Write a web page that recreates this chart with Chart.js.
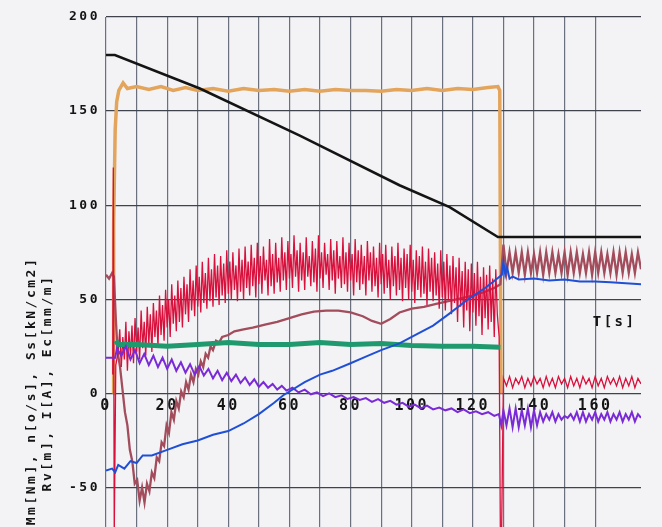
<!DOCTYPE html>
<html>
<head>
<meta charset="utf-8">
<script src="https://cdn.jsdelivr.net/npm/chart.js@4"></script>
<style>
  html, body { margin: 0; padding: 0; background: #f3f3f5; }
  #wrap { width: 662px; height: 527px; position: relative; }
</style>
</head>
<body>
<div id="wrap"><canvas id="chart"></canvas></div>
<script>
// axis values
const yGridValues = [-50, 0, 50, 100, 150, 200];
const xLabelValues = [0, 20, 40, 60, 80, 100, 120, 140, 160];
const yTitleLines = ["Mm[Nm], n[o/s], Ss[kN/cm2]", "Rv[m], I[A], Ec[mm/m]"];
const xTitle = "T[s]";

// time base after the stop (shared by the oscillating tails)
const tailT = [130, 131, 132, 133, 134, 135, 136, 137, 138, 139, 140, 141, 142, 143, 144, 145, 146, 147, 148, 149,
  150, 151, 152, 153, 154, 155, 156, 157, 158, 159, 160, 161, 162, 163, 164, 165, 166, 167, 168, 169, 170, 171,
  172, 173, 174, 175];

// black (speed) trace
const blackT = [0, 2.9, 30.7, 63.4, 96, 112.4, 128.2, 175];
const blackV = [179.8, 179.8, 162, 137, 110.6, 99, 83.1, 83.1];

// orange trace
const orangeT = [2.3, 2.5, 3.0, 3.5, 4.2, 5.6, 7, 10, 14, 18, 22, 26, 30, 35, 40, 45, 50, 55, 60, 65, 70, 75, 80,
  85, 90, 95, 100, 105, 110, 115, 120, 125, 128.2, 128.8, 129.2];
const orangeV = [0, 90, 140, 155, 161, 165, 162, 163, 161.5, 163, 161, 162.5, 161, 162, 160.5, 162, 161, 161.5,
  160.5, 161.5, 160.5, 161.5, 161, 161, 160.5, 161.5, 161, 162, 161, 162, 161.5, 162.5, 163, 161, 0];

// red trace: start spike, noisy body (every 0.5 s), drop at the stop, low tail
const redHeadT = [2.2, 2.4, 2.7, 3.2];
const redHeadV = [10, 120, -75, 15];
const redBodyT = [4, 4.5, 5, 5.5, 6, 6.5, 7, 7.5, 8, 8.5, 9, 9.5, 10, 10.5, 11, 11.5, 12, 12.5, 13, 13.5,
  14, 14.5, 15, 15.5, 16, 16.5, 17, 17.5, 18, 18.5, 19, 19.5, 20, 20.5, 21, 21.5, 22, 22.5, 23, 23.5,
  24, 24.5, 25, 25.5, 26, 26.5, 27, 27.5, 28, 28.5, 29, 29.5, 30, 30.5, 31, 31.5, 32, 32.5, 33, 33.5,
  34, 34.5, 35, 35.5, 36, 36.5, 37, 37.5, 38, 38.5, 39, 39.5, 40, 40.5, 41, 41.5, 42, 42.5, 43, 43.5,
  44, 44.5, 45, 45.5, 46, 46.5, 47, 47.5, 48, 48.5, 49, 49.5, 50, 50.5, 51, 51.5, 52, 52.5, 53, 53.5,
  54, 54.5, 55, 55.5, 56, 56.5, 57, 57.5, 58, 58.5, 59, 59.5, 60, 60.5, 61, 61.5, 62, 62.5, 63, 63.5,
  64, 64.5, 65, 65.5, 66, 66.5, 67, 67.5, 68, 68.5, 69, 69.5, 70, 70.5, 71, 71.5, 72, 72.5, 73, 73.5,
  74, 74.5, 75, 75.5, 76, 76.5, 77, 77.5, 78, 78.5, 79, 79.5, 80, 80.5, 81, 81.5, 82, 82.5, 83, 83.5,
  84, 84.5, 85, 85.5, 86, 86.5, 87, 87.5, 88, 88.5, 89, 89.5, 90, 90.5, 91, 91.5, 92, 92.5, 93, 93.5,
  94, 94.5, 95, 95.5, 96, 96.5, 97, 97.5, 98, 98.5, 99, 99.5, 100, 100.5, 101, 101.5, 102, 102.5, 103, 103.5,
  104, 104.5, 105, 105.5, 106, 106.5, 107, 107.5, 108, 108.5, 109, 109.5, 110, 110.5, 111, 111.5, 112, 112.5, 113, 113.5,
  114, 114.5, 115, 115.5, 116, 116.5, 117, 117.5, 118, 118.5, 119, 119.5, 120, 120.5, 121, 121.5, 122, 122.5, 123, 123.5,
  124, 124.5, 125, 125.5, 126, 126.5, 127, 127.5, 128];
const redBodyV = [22, 34, 14, 30, 18, 38, 12, 33, 20, 36,
  16, 40, 22, 35, 18, 44, 24, 38, 20, 46,
  26, 42, 22, 48, 30, 44, 25, 52, 31, 47,
  28, 55, 35, 50, 30, 58, 37, 52, 33, 60,
  38, 56, 35, 62, 42, 58, 38, 66, 44, 60,
  41, 68, 46, 62, 43, 70, 48, 64, 45, 72,
  49, 66, 46, 74, 51, 68, 47, 73, 52, 69,
  48, 76, 53, 70, 50, 75, 55, 68, 49, 77,
  54, 71, 50, 78, 56, 70, 52, 79, 57, 72,
  51, 80, 58, 73, 53, 78, 60, 71, 52, 82,
  57, 74, 53, 80, 59, 72, 54, 83, 60, 75,
  55, 81, 61, 74, 56, 84, 62, 76, 54, 80,
  60, 75, 55, 83, 62, 73, 57, 81, 59, 77,
  54, 84, 61, 75, 56, 80, 63, 74, 55, 82,
  60, 76, 53, 81, 61, 73, 56, 83, 58, 75,
  54, 80, 60, 74, 52, 82, 59, 76, 55, 79,
  58, 73, 52, 81, 60, 75, 54, 78, 57, 72,
  51, 80, 58, 74, 53, 79, 56, 71, 50, 78,
  57, 73, 52, 80, 55, 72, 49, 77, 56, 74,
  50, 79, 54, 71, 48, 76, 55, 73, 51, 78,
  53, 70, 47, 77, 54, 72, 49, 75, 52, 69,
  45, 76, 51, 70, 44, 74, 50, 68, 42, 73,
  48, 67, 38, 72, 46, 65, 35, 70, 44, 66,
  33, 69, 43, 64, 36, 70, 41, 62, 31, 67,
  40, 63, 34, 68, 38, 61, 30, 66, 42];
const redDropT = [128.6, 129, 129.4];
const redDropV = [30, -75, -75];
const redTailV = [8, 4, 9, 3, 8, 5, 9, 3, 8, 4, 9, 5, 8, 3, 9, 4, 8, 3, 9, 5, 8, 3, 9, 4, 8, 3, 9, 5, 8, 3, 9, 4,
  8, 3, 9, 5, 8, 4, 9, 3, 8, 4, 9, 3, 8, 5];

// brown trace
const brownT = [0, 1, 2, 2.6, 3.2, 3.8, 4.6, 5.4, 6.2, 7, 7.8, 8.6, 9.4, 10.2, 11, 11.8, 12.6, 13.4, 14.2, 15,
  15.8, 16.6, 17.4, 18.2, 19, 19.8, 20.6, 21.4, 22.2, 23, 23.8, 24.6, 25.4, 26.2, 27, 27.8, 28.6, 29.4, 30.2, 31,
  31.8, 32.6, 33.4, 34.2, 35, 36, 37, 38, 40, 42, 45, 48, 52, 56, 60, 64, 68, 72, 76, 80, 84, 87, 90, 93, 96,
  100, 104, 108, 112, 116, 120, 124, 127, 129];
const brownV = [63, 61, 64, 62, 40, 22, 14, 2, -10, -17, -30, -36, -48, -46, -57, -50, -58, -48, -52, -42, -45,
  -34, -36, -26, -28, -17, -21, -10, -14, -4, -8, 1, -2, 6, 2, 10, 6, 13, 10, 17, 14, 21, 19, 25, 23, 28, 27, 30,
  31, 33, 34, 35, 36.5, 38, 40, 42, 43.5, 44, 44, 43, 41, 38.5, 37, 39.5, 43, 45, 46, 47.5, 49, 50.5, 52, 54, 56,
  58];
const brownTailV = [79, 64, 75, 64, 75, 64, 75, 63, 75, 64, 74, 64, 75, 63, 75, 64, 75, 64, 74, 64, 75, 63, 75,
  64, 75, 64, 74, 64, 75, 63, 75, 64, 75, 64, 74, 64, 75, 63, 75, 64, 75, 64, 74, 64, 75, 66];

// green trace
const greenT = [3.2, 4, 10, 20, 30, 40, 50, 60, 70, 80, 90, 100, 110, 120, 129];
const greenV = [28, 26, 26, 25, 26, 27, 26, 26, 27, 26, 26.5, 25.5, 25, 25, 24.5];

// blue trace
const blueT = [0, 2, 3, 4, 6, 8, 10, 12, 15, 20, 25, 30, 35, 40, 45, 50, 55, 58, 60, 65, 70, 74, 80, 85, 90, 96,
  100, 107, 112, 118, 124, 128, 129.5, 130, 130.6, 131.2, 132, 133, 135, 140, 145, 150, 155, 160, 165, 170, 175];
const blueV = [-41, -40, -42, -38, -40, -36, -37, -33, -33, -30, -27, -25, -22, -20, -16, -11, -5, -1, 1, 6, 10,
  12, 16, 19.5, 23, 26.6, 30, 36, 42, 49.5, 56, 61, 63, 70, 63, 67, 61, 62, 60.5, 61, 60, 60.5, 59.5, 59.5, 59,
  58.5, 58];

// purple trace
const purpleT = [0, 3, 3.6, 5, 6.5, 8, 9.5, 11, 12.5, 14, 15.5, 17, 18.5, 20, 21.5, 23, 24.5, 26, 27.5, 29, 30.5,
  32, 33.5, 35, 36.5, 38, 39.5, 41, 42.5, 44, 45.5, 47, 48.5, 50, 51.5, 53, 54.5, 56, 57.5, 59, 61, 63, 65, 67,
  69, 71, 73, 75, 77, 79, 81, 83, 85, 87, 89, 91, 93, 95, 97, 99, 101, 103, 105, 107, 109, 111, 113, 115, 117,
  119, 121, 123, 125, 127, 128.5, 129.3];
const purpleV = [19, 19, 24, 20, 25, 18, 23, 16, 21, 15, 20, 14, 19, 13, 18, 12, 16.5, 11, 15.5, 10, 14.5, 9.5,
  13, 8, 12, 7, 11, 6.5, 10, 5.5, 8.5, 4.5, 7.5, 3.5, 6, 3, 5, 2, 4, 1.5, 3, 0.5, 2, -0.5, 0.5, -1.5, 0, -2, -1,
  -3, -2, -3.5, -2.5, -4.5, -3, -5, -4, -6, -5, -7, -6, -8, -6.5, -8.5, -7.5, -9, -8, -10, -8.5, -10.5, -9.5, -11,
  -10, -12, -11, -17];
const purpleTailV = [-9, -17, -8, -18, -8, -18, -9, -17, -8, -18, -9, -17, -10, -15, -11, -14, -10, -15, -11, -14,
  -12, -13, -11, -14, -10, -15, -10, -15, -11, -14, -10, -15, -11, -14, -10, -15, -11, -14, -10, -15, -11, -14,
  -10, -15, -11, -13];

function pts(ts, vs) {
  return ts.map((t, i) => ({ x: t, y: vs[i] }));
}

const FONT = "'DejaVu Sans Mono', 'Liberation Mono', monospace";

// wide plotter-style lettering, plus the rotated axis title and T[s]
const plotterText = {
  id: "plotterText",
  beforeDraw(chart) {
    chart.ctx.letterSpacing = "2.5px";
  },
  afterDraw(chart) {
    const ctx = chart.ctx;
    const x = chart.scales.x;
    const y = chart.scales.y;
    ctx.save();
    ctx.fillStyle = "#141414";
    ctx.font = "bold 13px " + FONT;
    ctx.textAlign = "center";
    ctx.textBaseline = "middle";
    ctx.translate(32, 391);
    ctx.rotate(-Math.PI / 2);
    ctx.fillText(yTitleLines[0], 0, 0);
    ctx.fillText(yTitleLines[1], 8, 16);
    ctx.restore();

    ctx.save();
    ctx.fillStyle = "#141414";
    ctx.font = "bold 14px " + FONT;
    ctx.textAlign = "right";
    ctx.textBaseline = "middle";
    ctx.fillText(xTitle, x.getPixelForValue(173.5), y.getPixelForValue(38));
    ctx.restore();
  }
};

new Chart(document.getElementById("chart"), {
  type: "line",
  data: {
    datasets: [
      { label: "n", data: pts(blackT, blackV), borderColor: "#141414", borderWidth: 2.5 },
      { label: "Ec", data: pts(blueT, blueV), borderColor: "#1f4fd6", borderWidth: 2 },
      { label: "I", data: pts(purpleT.concat(tailT), purpleV.concat(purpleTailV)), borderColor: "#7a2ad6", borderWidth: 2 },
      { label: "Ss", data: pts(greenT, greenV), borderColor: "#1f9a6e", borderWidth: 5 },
      {
        label: "Mm",
        data: pts(redHeadT.concat(redBodyT, redDropT, tailT), redHeadV.concat(redBodyV, redDropV, redTailV)),
        borderColor: "#d8103c",
        borderWidth: 1.3
      },
      { label: "Rv", data: pts(brownT.concat(tailT), brownV.concat(brownTailV)), borderColor: "#a24c5c", borderWidth: 2.3 },
      { label: "Sv", data: pts(orangeT, orangeV), borderColor: "#e3a45c", borderWidth: 3.5 }
    ]
  },
  options: {
    responsive: true,
    maintainAspectRatio: false,
    animation: false,
    layout: { padding: { left: 0, right: 21, top: 17, bottom: 0 } },
    elements: { point: { radius: 0 }, line: { tension: 0 } },
    plugins: { legend: { display: false }, tooltip: { enabled: false } },
    scales: {
      x: {
        type: "linear",
        position: { y: 0 },
        min: 0,
        max: 175,
        afterBuildTicks: (s) => {
          s.ticks = s.ticks.filter((t) => t.value % 10 === 0);
        },
        afterFit: (s) => {
          s.height = 0;
          s.paddingLeft = 0;
          s.paddingRight = 0;
        },
        grid: { color: "#6a707e", lineWidth: 1.2, drawTicks: false },
        border: { display: false },
        ticks: {
          stepSize: 10,
          autoSkip: false,
          maxRotation: 0,
          padding: 4,
          color: "#141414",
          font: { family: FONT, size: 15, weight: "bold" },
          callback: (v) => (xLabelValues.includes(v) ? String(v) : "")
        }
      },
      y: {
        type: "linear",
        min: -71,
        max: 200,
        afterBuildTicks: (s) => {
          s.ticks = yGridValues.map((v) => ({ value: v }));
        },
        afterFit: (s) => {
          s.width = 106;
          s.paddingTop = 0;
          s.paddingBottom = 0;
        },
        grid: { color: "#3e434e", lineWidth: 1.2, drawTicks: false },
        border: { display: false },
        ticks: {
          padding: 6,
          color: "#141414",
          font: { family: FONT, size: 13, weight: "bold" }
        }
      }
    }
  },
  plugins: [plotterText]
});
</script>
</body>
</html>
